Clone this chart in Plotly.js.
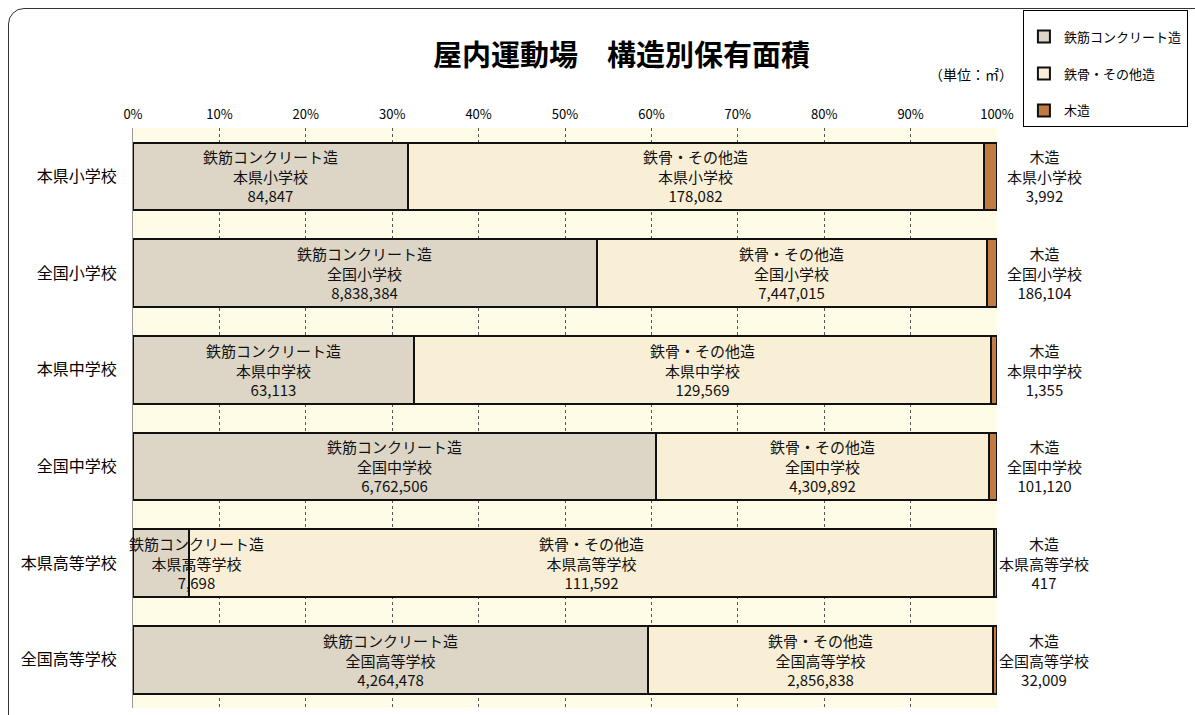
<!DOCTYPE html>
<html>
<head>
<meta charset="utf-8">
<script src="https://cdn.plot.ly/plotly-3.0.1.min.js"></script>
<style>
  body { margin: 0; overflow: hidden; background: #fff; }
  #chart { width: 1195px; height: 715px; }
  #frame {
    position: absolute; left: 8px; top: 8px; width: 1210px; height: 730px;
    border: 1px solid #333; border-radius: 16px; pointer-events: none;
  }
</style>
</head>
<body>
<div id="chart"></div>
<div id="frame"></div>
<script>
// 学校区分
const categories = ['本県小学校', '全国小学校', '本県中学校', '全国中学校', '本県高等学校', '全国高等学校'];
// 構造別保有面積 (㎡)
const seriesNames = ['鉄筋コンクリート造', '鉄骨・その他造', '木造'];
const rcValues = [84847, 8838384, 63113, 6762506, 7698, 4264478];
const steelValues = [178082, 7447015, 129569, 4309892, 111592, 2856838];
const woodValues = [3992, 186104, 1355, 101120, 417, 32009];
const tickVals = [0, 10, 20, 30, 40, 50, 60, 70, 80, 90, 100];
const tickText = tickVals.map(v => v + '%');

const font = '"Noto Sans CJK JP", "Noto Sans", sans-serif';
const colors = ['#ddd6c7', '#f9efd7', '#c27a43'];
const allValues = [rcValues, steelValues, woodValues];

const fmt = v => v.toLocaleString('en-US');

const traces = allValues.map((vals, i) => ({
    type: 'bar',
    orientation: 'h',
    name: seriesNames[i],
    y: categories,
    x: vals,
    legendgroup: 'g' + i,
    marker: { color: colors[i], line: { color: '#111', width: 2 } },
    textposition: 'none',
    hoverinfo: 'skip'
}));

// ラベル (バーの中央、木造は右側)
const annotations = [];
categories.forEach((cat, j) => {
    const total = rcValues[j] + steelValues[j] + woodValues[j];
    let start = 0;
    allValues.forEach((vals, i) => {
        const pct = vals[j] / total * 100;
        const a = {
            x: start + pct / 2, y: cat, xref: 'x', yref: 'y',
            text: seriesNames[i] + '<br>' + cat + '<br>' + fmt(vals[j]),
            showarrow: false, align: 'center',
            font: { family: font, size: 15, color: '#111' }
        };
        if (i === 2) {
            a.text = '木造<br>' + cat + '<br>' + fmt(vals[j]);
            a.x = 100;
            a.xshift = 47;
        } else if (pct < 10) {
            a.x = 0;
            a.xanchor = 'left';
            a.xshift = -6;
        }
        annotations.push(a);
        start += pct;
    });
});

annotations.push({
    text: '<b>屋内運動場　構造別保有面積</b>', xref: 'paper', yref: 'paper',
    x: 0.565, y: 1.13, xanchor: 'center', yanchor: 'middle', showarrow: false,
    font: { family: font, size: 29, color: '#000' }
});
annotations.push({
    text: '（単位：㎡）', xref: 'paper', yref: 'paper',
    x: 0.97, y: 1.093, xanchor: 'center', yanchor: 'middle', showarrow: false,
    font: { family: font, size: 14, color: '#000' }
});

const layout = {
    width: 1195,
    height: 715,
    margin: { l: 133, r: 191, t: 128, b: 7 },
    barmode: 'stack',
    barnorm: 'percent',
    bargap: 0.3,
    paper_bgcolor: '#ffffff',
    plot_bgcolor: '#fefbe6',
    font: { family: font, size: 12, color: '#000' },
    showlegend: true,
    legend: {
        x: 1.03, y: 1.203, xanchor: 'left', yanchor: 'top',
        bgcolor: '#fff', bordercolor: '#000', borderwidth: 1,
        traceorder: 'grouped', tracegroupgap: 17,
        title: { text: ' ', font: { size: 8 } },
        font: { family: font, size: 13, color: '#000' },
        itemwidth: 30
    },
    xaxis: {
        side: 'top', range: [0, 100], tickvals: tickVals, ticktext: tickText,
        showgrid: true, gridcolor: '#555', griddash: 'dot', gridwidth: 1,
        zeroline: false, showline: false, ticks: '', ticklabelstandoff: 5,
        tickfont: { family: font, size: 13, color: '#000' }
    },
    yaxis: {
        autorange: 'reversed', showgrid: false, zeroline: false,
        showline: true, linecolor: '#999', ticks: '', ticklabelstandoff: 12,
        tickfont: { family: font, size: 16, color: '#000' }
    },
    annotations: annotations
};

Plotly.newPlot('chart', traces, layout, { displayModeBar: false, staticPlot: true });
</script>
</body>
</html>
